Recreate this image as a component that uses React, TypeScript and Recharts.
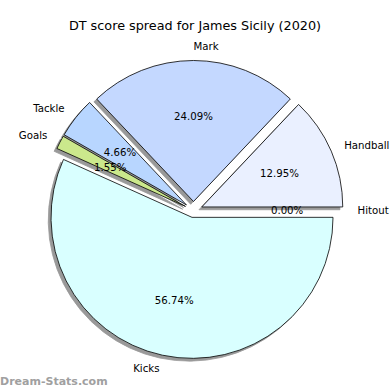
import React from "react";
import { PieChart, Pie, Cell } from "recharts";

// DT points by stat (kicks x3, handballs x2, marks x3, tackles x4, goals x6, hitouts x1)
const CATEGORIES = ["Hitout", "Handball", "Mark", "Tackle", "Goals", "Kicks"];
const SCORES = [0, 100, 186, 36, 12, 438];

const COLORS = ["#e4ecff", "#eaf0ff", "#c4d8ff", "#b8d6ff", "#cbe88c", "#d9ffff"];
const EXPLODE = [9, 9, 9, 9, 9, 7];

const data = CATEGORIES.map((name, i) => ({ name, value: SCORES[i] }));

const CX = 193.5;
const CY = 210.5;
const R = 141;
const RAD = Math.PI / 180;
const FONT = "DejaVu Sans, sans-serif";
const LABEL_SIZE = 10.2;

const nameOf = (p: any) => p.name ?? p.payload?.name ?? p.payload?.payload?.name;

const apex = (p: any) => {
  const i = CATEGORIES.indexOf(nameOf(p));
  const mid = (p.startAngle + p.endAngle) / 2;
  const e = EXPLODE[i] ?? 0;
  return { x: p.cx + e * Math.cos(mid * RAD), y: p.cy - e * Math.sin(mid * RAD), mid, i };
};

const wedge = (x: number, y: number, r: number, a0: number, a1: number) => {
  const x0 = x + r * Math.cos(a0 * RAD);
  const y0 = y - r * Math.sin(a0 * RAD);
  const x1 = x + r * Math.cos(a1 * RAD);
  const y1 = y - r * Math.sin(a1 * RAD);
  if (Math.abs(a1 - a0) < 1e-6) return `M${x},${y}L${x0},${y0}Z`;
  const large = Math.abs(a1 - a0) > 180 ? 1 : 0;
  return `M${x},${y}L${x0},${y0}A${r},${r} 0 ${large} 0 ${x1},${y1}Z`;
};

const makeShape = (shadow: boolean) => (p: any) => {
  const a = apex(p);
  const d = wedge(a.x, a.y, p.outerRadius, p.startAngle, p.endAngle);
  if (shadow) return <path d={d} fill="#999" stroke="#999" strokeWidth={0.8} />;
  return <path d={d} fill={COLORS[a.i]} stroke="#000" strokeWidth={0.8} strokeLinejoin="round" />;
};

const renderLabel = (p: any) => {
  const a = apex(p);
  const c = Math.cos(a.mid * RAD);
  const s = Math.sin(a.mid * RAD);
  const r = p.outerRadius;
  return (
    <g>
      <text
        x={a.x + 1.1 * r * c}
        y={a.y - 1.1 * r * s}
        textAnchor={c > -1e-6 ? "start" : "end"}
        dominantBaseline="central"
        fontSize={LABEL_SIZE}
        fontFamily={FONT}
        fill="#000"
      >
        {nameOf(p)}
      </text>
      <text
        x={a.x + 0.6 * r * c}
        y={a.y - 0.6 * r * s}
        textAnchor="middle"
        dominantBaseline="central"
        fontSize={LABEL_SIZE}
        fontFamily={FONT}
        fill="#000"
      >
        {(p.percent * 100).toFixed(2)}%
      </text>
    </g>
  );
};

export default function App() {
  return (
    <div style={{ position: "absolute", left: 0, top: 0, width: 390, height: 390, background: "#fff" }}>
      <PieChart width={390} height={390} margin={{ top: 0, right: 0, bottom: 0, left: 0 }}>
        <Pie
          data={data}
          dataKey="value"
          nameKey="name"
          cx={CX - 2.8}
          cy={CY + 2.8}
          outerRadius={R}
          startAngle={0}
          endAngle={360}
          shape={makeShape(true)}
          activeShape={makeShape(true)}
          label={false}
          labelLine={false}
          isAnimationActive={false}
        >
          {data.map((_, i) => (
            <Cell key={i} fill="#999" />
          ))}
        </Pie>
        <Pie
          data={data}
          dataKey="value"
          nameKey="name"
          cx={CX}
          cy={CY}
          outerRadius={R}
          startAngle={0}
          endAngle={360}
          shape={makeShape(false)}
          activeShape={makeShape(false)}
          label={renderLabel}
          labelLine={false}
          isAnimationActive={false}
        >
          {data.map((_, i) => (
            <Cell key={i} fill={COLORS[i]} />
          ))}
        </Pie>
      </PieChart>
      <div
        style={{
          position: "absolute",
          top: 18,
          left: 0,
          width: 390,
          textAlign: "center",
          fontFamily: FONT,
          fontSize: 12.8,
          color: "#000",
        }}
      >
        DT score spread for James Sicily (2020)
      </div>
      <div
        style={{
          position: "absolute",
          left: 0,
          top: 375,
          fontFamily: FONT,
          fontSize: 11,
          fontWeight: "bold",
          color: "#a0a0a0",
        }}
      >
        Dream-Stats.com
      </div>
    </div>
  );
}
